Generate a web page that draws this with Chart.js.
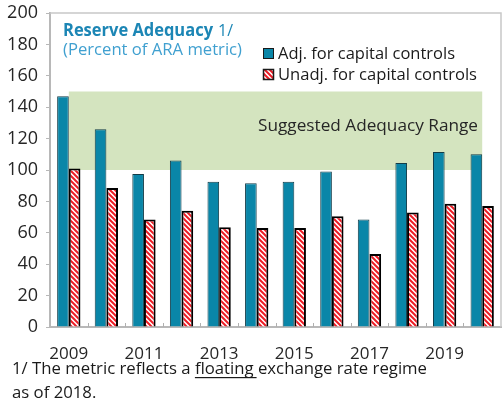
<!DOCTYPE html>
<html>
<head>
<meta charset="utf-8">
<script src="https://cdn.jsdelivr.net/npm/chart.js@4"></script>
<style>
  html, body { margin: 0; padding: 0; background: #fff; }
  #wrap { width: 503px; height: 406px; position: relative; }
</style>
</head>
<body>
<div id="wrap"><canvas id="reserveChart" width="503" height="406"></canvas></div>
<script>
const years = ['2009', '2010', '2011', '2012', '2013', '2014', '2015', '2016', '2017', '2018', '2019', '2020'];
const adjusted = [147, 126, 97.5, 106, 92.5, 91.5, 92.5, 99, 68.5, 104.5, 111.5, 110];
const unadjusted = [101, 88.5, 68.5, 74, 63.5, 63, 63, 70.5, 46.5, 73, 78.5, 77];
const yTicks = [0, 20, 40, 60, 80, 100, 120, 140, 160, 180, 200];
const rangeLow = 100;
const rangeHigh = 150;

const FONT = '"Open Sans", Lato, sans-serif';

// red diagonal hatch on white
function makeHatch() {
    const c = document.createElement('canvas');
    c.width = 5; c.height = 5;
    const g = c.getContext('2d');
    g.fillStyle = '#ffffff';
    g.fillRect(0, 0, 5, 5);
    g.strokeStyle = '#ee1c25';
    g.lineWidth = 2;
    g.beginPath();
    g.moveTo(-3, -3); g.lineTo(8, 8);
    g.moveTo(-3, 2); g.lineTo(3, 8);
    g.moveTo(2, -3); g.lineTo(8, 3);
    g.stroke();
    return g.createPattern(c, 'repeat');
}
const ctx = document.getElementById('reserveChart').getContext('2d');
const hatch = makeHatch();

// draw text squeezed/stretched to a given width
function fitText(c, txt, x, y, w) {
    const m = c.measureText(txt).width;
    c.save();
    c.translate(x, y);
    c.scale(w / m, 1);
    c.fillText(txt, 0, 0);
    c.restore();
}

const decorPlugin = {
    id: 'decor',
    beforeDatasetsDraw(chart) {
        const { ctx, scales: { x, y } } = chart;
        // suggested adequacy band, from first to last category centre
        const x0 = x.getPixelForValue(0);
        const x1 = x.getPixelForValue(years.length - 1);
        const yTop = y.getPixelForValue(rangeHigh);
        const yBot = y.getPixelForValue(rangeLow);
        ctx.save();
        ctx.fillStyle = '#d4e4bf';
        ctx.fillRect(x0, yTop, x1 - x0, yBot - yTop);
        ctx.fillStyle = '#262626';
        ctx.font = '17px ' + FONT;
        fitText(ctx, 'Suggested Adequacy Range', 258, 131, 220);
        ctx.restore();
    },
    afterDraw(chart) {
        const { ctx, chartArea: a, scales: { x } } = chart;
        ctx.save();
        // frame top and right
        ctx.strokeStyle = '#c8c8c8';
        ctx.lineWidth = 1.5;
        ctx.beginPath();
        ctx.moveTo(a.left, a.top);
        ctx.lineTo(a.right, a.top);
        ctx.lineTo(a.right, a.bottom);
        ctx.stroke();
        // inward x ticks between categories
        ctx.strokeStyle = '#b0b0b0';
        ctx.lineWidth = 1;
        ctx.beginPath();
        for (let i = 1; i < years.length; i++) {
            const px = Math.round((x.getPixelForValue(i - 1) + x.getPixelForValue(i)) / 2) + 0.5;
            ctx.moveTo(px, a.bottom);
            ctx.lineTo(px, a.bottom - 4);
        }
        ctx.stroke();

        // title
        ctx.textBaseline = 'alphabetic';
        ctx.font = 'bold 17px ' + FONT;
        ctx.fillStyle = '#1c86b5';
        fitText(ctx, 'Reserve Adequacy', 63, 36, 150);
        ctx.font = '17px ' + FONT;
        fitText(ctx, '1/', 218, 36, 15);
        ctx.fillStyle = '#40a0d0';
        fitText(ctx, '(Percent of ARA metric)', 63, 55, 179);

        // legend
        ctx.font = '17px ' + FONT;
        ctx.fillStyle = '#0a86a8';
        ctx.fillRect(263, 48, 10, 10);
        ctx.strokeStyle = '#1a1a1a';
        ctx.lineWidth = 1;
        ctx.strokeRect(263.5, 48.5, 10, 10);
        ctx.fillStyle = hatch;
        ctx.fillRect(263, 69, 10, 10);
        ctx.lineWidth = 1.5;
        ctx.strokeRect(263.5, 69.5, 10, 10);
        ctx.fillStyle = '#1a1a1a';
        fitText(ctx, 'Adj. for capital controls', 278, 59, 177);
        fitText(ctx, 'Unadj. for capital controls', 278, 80, 199);

        // footnote
        ctx.font = '17px ' + FONT;
        ctx.fillStyle = '#1a1a1a';
        const full = '1/ The metric reflects a floating exchange rate regime';
        const sx = 415 / ctx.measureText(full).width;
        const pre = '1/ The metric reflects a ';
        const mid = 'floating';
        ctx.save();
        ctx.translate(12, 374);
        ctx.scale(sx, 1);
        ctx.fillText(full, 0, 0);
        const wp = ctx.measureText(pre).width;
        const wm = ctx.measureText(mid).width;
        ctx.fillRect(wp, 3, wm + 3, 1.2);
        ctx.fillText('as of 2018.', 0, 24);
        ctx.restore();
        ctx.restore();
    }
};

const chart = new Chart(ctx, {
    type: 'bar',
    data: {
        labels: years,
        datasets: [{
            label: 'Adj. for capital controls',
            data: adjusted,
            backgroundColor: '#0a86a8',
            borderColor: '#123c48',
            borderWidth: 1,
            categoryPercentage: 0.62,
            barPercentage: 1.0
        }, {
            label: 'Unadj. for capital controls',
            data: unadjusted,
            backgroundColor: hatch,
            borderColor: '#000000',
            borderWidth: 2,
            categoryPercentage: 0.62,
            barPercentage: 1.0
        }]
    },
    options: {
        responsive: false,
        animation: false,
        layout: { padding: { top: 13, right: 2, left: 0, bottom: 0 } },
        scales: {
            x: {
                grid: { display: false, offset: true },
                border: { color: '#b8b8b8', width: 2 },
                ticks: {
                    autoSkip: false,
                    maxRotation: 0,
                    color: '#262626',
                    font: { family: FONT, size: 17 },
                    padding: 9,
                    callback: function(val, i) { return i % 2 === 0 ? years[i] : ''; }
                },
                afterFit: function(s) { s.height = 79; }
            },
            y: {
                min: 0,
                max: 200,
                afterBuildTicks: function(s) { s.ticks = yTicks.map(v => ({ value: v })); },
                grid: { drawOnChartArea: false, tickLength: 4, color: '#b8b8b8' },
                border: { color: '#b8b8b8', width: 2 },
                ticks: {
                    color: '#262626',
                    font: { family: FONT, size: 18 },
                    padding: 8
                },
                afterFit: function(s) {
                    s.width = 50;
                    s.paddingTop = 0;
                    s.paddingBottom = 0;
                }
            }
        },
        plugins: {
            legend: { display: false },
            tooltip: { enabled: false }
        }
    },
    plugins: [decorPlugin]
});
</script>
</body>
</html>
